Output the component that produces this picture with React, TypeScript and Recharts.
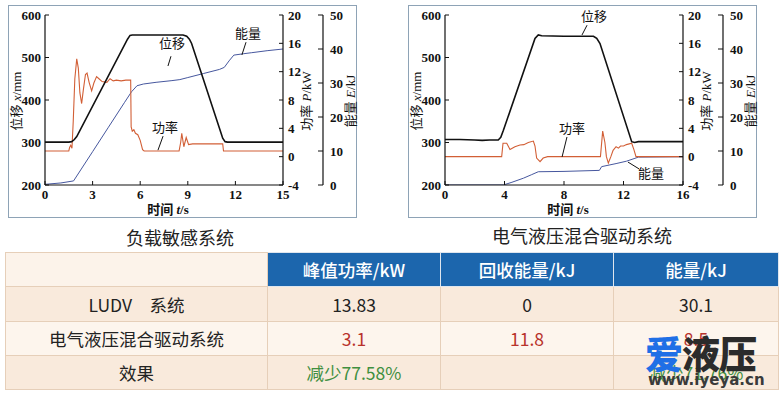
import { LineChart, Line, XAxis, YAxis, ReferenceLine, ReferenceDot } from "recharts";

// ---- axis ticks ----
const ludvTimeTicks = [0, 3, 6, 9, 12, 15];
const hybridTimeTicks = [0, 4, 8, 12, 16];
const dispTicks = [200, 300, 400, 500, 600];
const powerTicks = [-4, 0, 4, 8, 12, 16, 20];
const energyTicks = [0, 10, 20, 30, 40, 50];

// ---- LUDV (load sensing) system ----
const ludvDispT = [0, 1.5, 1.68, 1.85, 2.0, 5.2, 5.36, 5.5, 8.7, 8.93, 9.1, 9.24, 11.0, 11.2, 11.35, 11.5, 15];
const ludvDispV = [301, 301, 302, 307, 314, 543, 552, 553, 553, 550, 543, 533, 333, 310, 302, 301, 301];

const ludvPowerT = [
  0, 1.5, 1.55, 1.62, 1.7, 1.78, 1.88, 2.0, 2.1, 2.2, 2.31, 2.42, 2.55, 2.65, 2.78, 2.94, 3.08, 3.25, 3.4,
  3.6, 3.9, 4.1, 4.3, 4.5, 4.8, 5.1, 5.4, 5.43, 5.5, 5.6, 5.7, 5.85, 6.0, 6.15, 6.25, 8.45, 8.55, 8.62,
  8.75, 8.9, 9.05, 9.3, 11.2, 11.25, 15,
];
const ludvPowerV = [
  0.8, 0.8, 1.3, 1.6, 1.2, 5, 11, 13.8, 12.5, 9, 7.5, 9.5, 11.6, 11.8, 10.5, 9.3, 10.4, 11.3, 11.0,
  10.6, 10.5, 11.0, 10.7, 10.8, 10.7, 10.8, 10.8, 4.2, 3.6, 3.8, 3.3, 3.1, 2.3, 1.0, 0.8, 0.8, 2.0, 3.3,
  1.4, 2.7, 1.7, 1.8, 1.8, 0.8, 0.8,
];

const ludvEnergyT = [0, 1.0, 1.8, 3, 4, 5, 5.45, 5.8, 6.2, 7, 8, 8.5, 9, 10, 11, 11.3, 11.6, 11.9, 12.5, 13, 14, 15];
const ludvEnergyV = [0.2, 0.6, 1.2, 9.8, 17, 24.2, 27.4, 29.2, 29.7, 30.2, 30.7, 31.0, 31.6, 32.8, 34, 34.6, 36.5, 38.2, 38.6, 38.9, 39.5, 40];

// ---- electro-hydraulic hybrid drive system ----
const hybDispT = [0, 1, 2, 2.5, 3, 3.58, 3.75, 3.92, 6.05, 6.27, 6.5, 8, 9.98, 10.2, 10.42, 12.55, 12.75, 13, 16];
const hybDispV = [307, 307, 306, 305, 306, 306, 312, 328, 545, 553, 551, 550, 550, 545, 533, 302, 300, 302, 302];

const hybPowerT = [
  0, 3.81, 3.9, 4.15, 4.37, 4.7, 5.04, 5.3, 5.6, 5.94, 6.05, 6.16, 6.39, 6.6, 6.9, 10.45, 10.6, 10.75,
  10.85, 10.98, 11.15, 11.3, 11.5, 11.66, 11.8, 12.0, 12.2, 12.55, 12.7, 12.84, 16,
];
const hybPowerV = [
  0, 0, 1.9, 1.9, 1.0, 1.4, 1.65, 1.7, 2.0, 2.2, 1.5, -0.2, -0.7, -0.2, 0, 0, 3.6, 2.0,
  0, -0.9, 0, 0.9, 1.4, 1.2, 1.5, 1.5, 1.7, 1.9, 1.0, 0, 0,
];

const hybEnergyT = [0, 3.92, 4.5, 5.27, 5.8, 6.27, 8, 10.38, 10.53, 11.5, 12.2, 12.77, 13.0, 16];
const hybEnergyV = [0, 0, 0.8, 2.0, 3.0, 3.9, 4.0, 4.3, 5.4, 6.3, 7.0, 7.85, 8.2, 8.3];

// ---- table ----
const tableHeaders = ["峰值功率/kW", "回收能量/kJ", "能量/kJ"];
const rowNames = ["LUDV\u3000系统", "电气液压混合驱动系统", "效果"];
const peakPower = ["13.83", "3.1", "减少77.58%"];
const recovered = ["0", "11.8", ""];
const energyUse = ["30.1", "8.5", "减少71.76%"];

const zip = (ts: number[], vs: number[]) => ts.map((t, i) => ({ t, v: vs[i] }));

const SERIF = "'Liberation Serif', 'Noto Sans CJK SC', serif";
const CJK = "'Noto Sans CJK SC', sans-serif";
const INK = "#111";
const tickStyle = { fontSize: 13, fontWeight: 700, fill: INK, fontFamily: SERIF };
const axisLine = { stroke: INK, strokeWidth: 1.2 };

// right axes: ids sort so that power ("r1") sits next to the plot, energy ("r2") outside
const POWER = "r1";
const ENERGY = "r2";

type Note = { text: string; at: [number, number]; from: [number, number]; to: [number, number] };

function Panel({
  left,
  disp,
  power,
  energy,
  tMax,
  tTicks,
  notes,
}: {
  left: number;
  disp: { t: number; v: number }[];
  power: { t: number; v: number }[];
  energy: { t: number; v: number }[];
  tMax: number;
  tTicks: number[];
  notes: Note[];
}) {
  const title = (cx: number, cy: number, content: React.ReactNode, rotate = true) => (
    <div
      style={{
        position: "absolute",
        left: cx,
        top: cy,
        transform: `translate(-50%, -50%)${rotate ? " rotate(-90deg)" : ""}`,
        whiteSpace: "nowrap",
        fontFamily: SERIF,
        fontSize: 13,
        color: INK,
        lineHeight: 1,
      }}
    >
      {content}
    </div>
  );

  return (
    <div
      style={{
        position: "absolute",
        left,
        top: 5,
        width: 349,
        height: 213,
        border: "1px solid #8ea3b6",
        boxSizing: "border-box",
        background: "#fff",
      }}
    >
      <div style={{ position: "absolute", left: -1, top: -1 }}>
        <LineChart width={349} height={213} margin={{ top: 10, right: 0, bottom: 0, left: 0 }}>
          <XAxis
            dataKey="t"
            type="number"
            domain={[0, tMax]}
            ticks={tTicks}
            allowDataOverflow
            height={33}
            tickSize={-4}
            tickMargin={9}
            axisLine={axisLine}
            tickLine={{ stroke: INK }}
            tick={tickStyle}
          />
          <YAxis
            yAxisId="x"
            type="number"
            domain={[200, 600]}
            ticks={dispTicks}
            allowDataOverflow
            width={37}
            tickSize={-4}
            tickMargin={8}
            axisLine={axisLine}
            tickLine={{ stroke: INK }}
            tick={tickStyle}
          />
          <YAxis
            yAxisId={POWER}
            orientation="right"
            type="number"
            domain={[-4, 20]}
            ticks={powerTicks}
            allowDataOverflow
            width={40}
            tickSize={-4}
            tickMargin={9}
            axisLine={axisLine}
            tickLine={{ stroke: INK }}
            tick={tickStyle}
          />
          <YAxis
            yAxisId={ENERGY}
            orientation="right"
            type="number"
            domain={[0, 50]}
            ticks={energyTicks}
            allowDataOverflow
            width={34}
            tickSize={-5}
            tickMargin={12}
            axisLine={axisLine}
            tickLine={{ stroke: INK }}
            tick={tickStyle}
          />
          <Line
            data={energy}
            dataKey="v"
            yAxisId={ENERGY}
            type="linear"
            stroke="#46579e"
            strokeWidth={1}
            dot={false}
            isAnimationActive={false}
          />
          <Line
            data={power}
            dataKey="v"
            yAxisId={POWER}
            type="linear"
            stroke="#d25f36"
            strokeWidth={1.1}
            dot={false}
            isAnimationActive={false}
          />
          <Line
            data={disp}
            dataKey="v"
            yAxisId="x"
            type="linear"
            stroke={INK}
            strokeWidth={1.6}
            dot={false}
            isAnimationActive={false}
          />
          {notes.map((n) => (
            <ReferenceLine
              key={n.text + "-line"}
              yAxisId="x"
              segment={[
                { x: n.from[0], y: n.from[1] },
                { x: n.to[0], y: n.to[1] },
              ]}
              stroke={INK}
              strokeWidth={1}
            />
          ))}
          {notes.map((n) => (
            <ReferenceDot
              key={n.text}
              yAxisId="x"
              x={n.at[0]}
              y={n.at[1]}
              r={0}
              fill="none"
              stroke="none"
              label={{ value: n.text, position: "center", fontSize: 13, fill: INK, fontFamily: CJK }}
            />
          ))}
        </LineChart>
      </div>
      {title(7, 95, <span>位移 <i>x</i>/mm</span>)}
      {title(297, 95, <span>功率 <i>P</i>/kW</span>)}
      {title(341, 95, <span>能量 <i>E</i>/kJ</span>)}
      {title(
        159,
        203,
        <span style={{ fontWeight: 700 }}>
          时间 <i>t</i>/s
        </span>,
        false
      )}
    </div>
  );
}

const cellBase: React.CSSProperties = {
  border: "1px solid #e6cfb9",
  textAlign: "center",
  padding: 0,
  fontFamily: CJK,
  fontSize: 17.5,
  color: "#222",
};

export default function App() {
  const rows = rowNames.map((name, i) => [name, peakPower[i], recovered[i], energyUse[i]]);
  const rowBg = ["#f9eadc", "#fdf5ed", "#f9eadc"];
  const rowH = [35, 34, 34];
  const valueColor = (r: number) => (r === 1 ? "#b8322b" : r === 2 ? "#3f8f3f" : "#222");

  return (
    <div style={{ position: "absolute", left: 0, top: 0, width: 783, height: 395, background: "#fff", overflow: "hidden" }}>
      <Panel
        left={8}
        disp={zip(ludvDispT, ludvDispV)}
        power={zip(ludvPowerT, ludvPowerV)}
        energy={zip(ludvEnergyT, ludvEnergyV)}
        tMax={15}
        tTicks={ludvTimeTicks}
        notes={[
          { text: "位移", at: [8.0, 534], from: [7.94, 503], to: [7.75, 480] },
          { text: "能量", at: [12.79, 557], from: [12.67, 536], to: [12.41, 506] },
          { text: "功率", at: [7.56, 336], from: [7.44, 315], to: [7.12, 282] },
        ]}
      />
      <Panel
        left={408}
        disp={zip(hybDispT, hybDispV)}
        power={zip(hybPowerT, hybPowerV)}
        energy={zip(hybEnergyT, hybEnergyV)}
        tMax={16}
        tTicks={hybridTimeTicks}
        notes={[
          { text: "位移", at: [10.02, 596], from: [9.55, 576], to: [9.21, 553] },
          { text: "功率", at: [8.54, 334], from: [8.2, 313], to: [7.87, 266] },
          { text: "能量", at: [13.85, 228], from: [13.04, 238], to: [12.3, 254] },
        ]}
      />
      <div style={{ position: "absolute", left: 80, top: 226, width: 200, textAlign: "center", fontFamily: CJK, fontSize: 18, color: "#222", lineHeight: "22px" }}>
        负载敏感系统
      </div>
      <div style={{ position: "absolute", left: 482, top: 224, width: 200, textAlign: "center", fontFamily: CJK, fontSize: 18, color: "#222", lineHeight: "22px" }}>
        电气液压混合驱动系统
      </div>
      <table
        style={{
          position: "absolute",
          left: 5,
          top: 252,
          width: 773,
          borderCollapse: "collapse",
          tableLayout: "fixed",
        }}
      >
        <colgroup>
          <col style={{ width: 262 }} />
          <col style={{ width: 173 }} />
          <col style={{ width: 173 }} />
          <col style={{ width: 165 }} />
        </colgroup>
        <tbody>
          <tr style={{ height: 34 }}>
            <td style={{ ...cellBase, background: "#fcf3ea" }} />
            {tableHeaders.map((h) => (
              <td key={h} style={{ ...cellBase, background: "#1c66ad", color: "#fff", fontWeight: 500, borderColor: "#dfe6ee" }}>
                {h}
              </td>
            ))}
          </tr>
          {rows.map((row, r) => (
            <tr key={r} style={{ height: rowH[r] }}>
              {row.map((c, j) => (
                <td key={j} style={{ ...cellBase, background: rowBg[r], color: j === 0 ? "#222" : valueColor(r) }}>
                  {c}
                </td>
              ))}
            </tr>
          ))}
        </tbody>
      </table>
      {/* site watermark overlaid on the table, as in the source image */}
      <div style={{ position: "absolute", left: 645, top: 330, fontFamily: CJK, fontWeight: 900, fontSize: 38, lineHeight: "44px", letterSpacing: -1 }}>
        <span style={{ color: "#1f6fe6" }}>爱</span>
        <span style={{ color: "#2b2b2b" }}>液压</span>
      </div>
      <div style={{ position: "absolute", left: 648, top: 371, fontFamily: "'DejaVu Sans', sans-serif", fontWeight: 700, fontSize: 15, color: "#3a3a3a", lineHeight: "18px" }}>
        www.iyeya.cn
      </div>
    </div>
  );
}
